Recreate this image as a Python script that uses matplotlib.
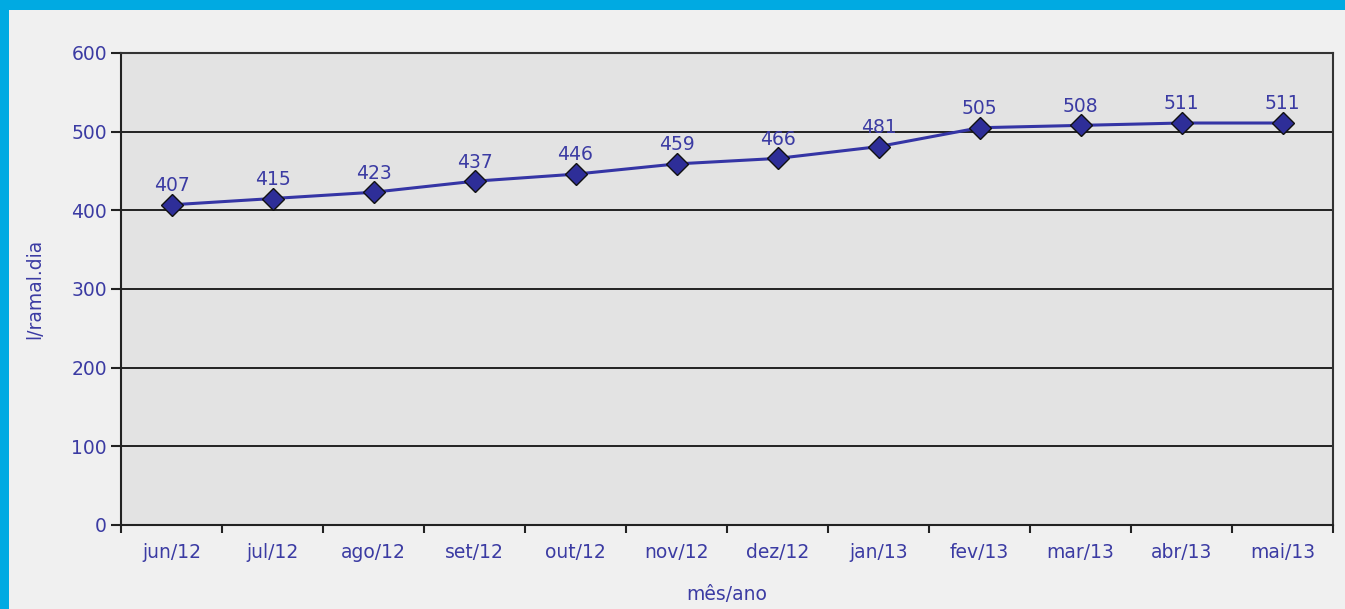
import matplotlib
matplotlib.use("Agg")
import matplotlib.pyplot as plt
from matplotlib.patches import Rectangle
import numpy as np

categories = ["jun/12", "jul/12", "ago/12", "set/12", "out/12", "nov/12",
              "dez/12", "jan/13", "fev/13", "mar/13", "abr/13", "mai/13"]
values = [407, 415, 423, 437, 446, 459, 466, 481, 505, 508, 511, 511]
yticks = [0, 100, 200, 300, 400, 500, 600]

txt = "#3b3ba3"
fs = 13.5
fig = plt.figure(figsize=(13.45, 6.09), dpi=100)
fig.patch.set_facecolor("#f0f0f0")
fig.patches.append(Rectangle((0, 1 - 10/609), 1, 10/609, transform=fig.transFigure,
                             facecolor="#00aae2", edgecolor="none", zorder=0))
fig.patches.append(Rectangle((0, 0), 9/1345, 1, transform=fig.transFigure,
                             facecolor="#00aae2", edgecolor="none", zorder=0))

ax = fig.add_axes([121/1345, 84/609, 1212/1345, 472/609])
ax.set_facecolor("#e3e3e3")
x = np.arange(len(categories))
ax.set_xlim(-0.5, len(categories) - 0.5)
ax.set_ylim(0, 600)
ax.set_yticks(yticks)
ax.set_yticklabels([str(t) for t in yticks])
ax.yaxis.grid(True, color="black", linewidth=1.2)
ax.set_axisbelow(True)

ax.set_xticks(x)
ax.set_xticklabels(categories)
ax.set_xticks(np.arange(-0.5, len(categories)), minor=True)
ax.tick_params(axis="x", which="major", length=0, pad=13, labelsize=fs, labelcolor=txt)
ax.tick_params(axis="x", which="minor", length=6, width=1.5, direction="out", color="#222222")
ax.tick_params(axis="y", length=7, width=1.5, direction="out", color="#222222",
               labelsize=fs, labelcolor=txt, pad=3)
for s in ax.spines.values():
    s.set_color("#333333")
    s.set_linewidth(1.5)
ax.spines["left"].set_color("#222222")
ax.spines["bottom"].set_color("#222222")

ax.plot(x, values, color="#3535a5", linewidth=2.2, marker="D", markersize=11,
        markerfacecolor="#2e2e98", markeredgecolor="#111111", markeredgewidth=1, zorder=3)
for xi, v in zip(x, values):
    ax.annotate(str(v), (xi, v), xytext=(0, 7), textcoords="offset points",
                ha="center", va="bottom", fontsize=fs, color=txt, zorder=4)

ax.set_ylabel("l/ramal.dia", fontsize=fs, color=txt, va="center")
ax.yaxis.set_label_coords(-86/1212, 0.5)
ax.set_xlabel("mês/ano", fontsize=fs, color=txt, va="center")
ax.xaxis.set_label_coords(0.5, -70/472)
fig.savefig("out.png", dpi=100, facecolor=fig.get_facecolor())
